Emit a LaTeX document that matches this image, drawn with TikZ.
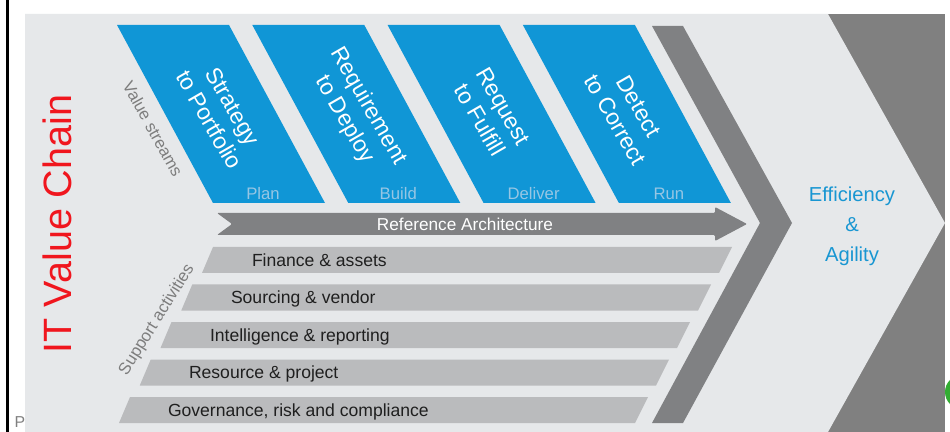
\documentclass[tikz,border=0pt]{standalone}
\usepackage{fontspec}
\setmainfont{Liberation Sans}
\usetikzlibrary{positioning}
\definecolor{panelgray}{RGB}{230,232,234}
\definecolor{bandgray}{RGB}{128,129,131}
\definecolor{bargray}{RGB}{186,187,189}
\definecolor{streamblue}{RGB}{16,150,214}
\definecolor{phaseblue}{RGB}{150,198,228}
\definecolor{chainred}{RGB}{240,22,30}
\definecolor{goalblue}{RGB}{24,150,210}
\definecolor{notegray}{RGB}{125,125,125}

\begin{document}
\begin{tikzpicture}[x=0.02cm, y=-0.02cm, inner sep=0, outer sep=0,
  streamtext/.style={text=white, rotate=-60, align=center,
    font=\fontsize{13}{15.5}\selectfont},
  phase/.style={text=phaseblue, font=\fontsize{9.5}{11}\selectfont},
  supporttext/.style={anchor=base west, text=black!88,
    font=\fontsize{10}{12}\selectfont},
  sidenote/.style={text=notegray, font=\fontsize{9.5}{11}\selectfont}]
  \useasboundingbox (0,0) rectangle (950,432);
  \fill[white] (0,0) rectangle (950,432);
  \fill[black] (6,0) rectangle (9,432);
  \node[text=gray, font=\fontsize{9}{10}\selectfont] (pmark) at (20,422) {P};
  \fill[green!60!black!80] (962,392) circle (17);

  % panel with chevron end
  \fill[gray] (828,14) rectangle (945,432);
  \fill[panelgray] (25,14) -- (828,14) -- (945,223) -- (828,432) -- (25,432) -- cycle;

  \node[text=chainred, rotate=90, font=\fontsize{22.5}{26}\selectfont] (title) at (57,224) {IT Value Chain};
  \node[sidenote, rotate=-61] (vs) at (153,129) {Value streams};
  \node[sidenote, rotate=58] (sa) at (157,320) {Support activities};

  % value streams
  \foreach \name/\lbl/\ph [count=\i from 0] in {s2p/{Strategy\\to Portfolio}/Plan,
      r2d/{Requirement\\to Deploy}/Build, r2f/{Request\\to Fulfill}/Deliver,
      d2c/{Detect\\to Correct}/Run} {
    \pgfmathsetmacro\dx{135.3*\i}
    \fill[streamblue] (117+\dx,25) -- (229+\dx,25) -- (325+\dx,203) -- (213+\dx,203) -- cycle;
    \node[streamtext] (\name) at (221+\dx,113) {\lbl};
    \node[phase] (\name-phase) at (263+\dx,194) {\ph};
  }

  % reference architecture arrow
  \fill[bandgray, rounded corners=0.6pt] (217,213) -- (715,213) -- (715,207) -- (747,224)
    -- (715,241) -- (715,235) -- (217,235) -- (232,224) -- cycle;
  \node[text=white, font=\fontsize{9.8}{12}\selectfont] (refarch) at (465,224) {Reference Architecture};

  % support activities
  \foreach \name/\lbl [count=\i from 0] in {fin/Finance \& assets, src/Sourcing \& vendor,
      intel/Intelligence \& reporting, res/Resource \& project,
      grc/{Governance, risk and compliance}} {
    \pgfmathsetmacro\ty{247+37.5*\i}
    \pgfmathsetmacro\lx{213-20.75*\i}
    \pgfmathsetmacro\rx{732-21*\i}
    \fill[bargray] (\lx,\ty) -- (\rx,\ty) -- (\rx-13,\ty+26) -- (\lx-11,\ty+26) -- cycle;
    \node[supporttext] (\name) at (252-21*\i,\ty+19.3) {\lbl};
  }

  % chevron band
  \fill[bandgray] (652,26) -- (683,26) -- (792,223) -- (683,423) -- (652,423) -- (760,223) -- cycle;

  \node[text=goalblue, align=center, font=\fontsize{11.5}{17}\selectfont] (goal) at (852,226)
    {Efficiency\\\&\\Agility};
\end{tikzpicture}
\end{document}
